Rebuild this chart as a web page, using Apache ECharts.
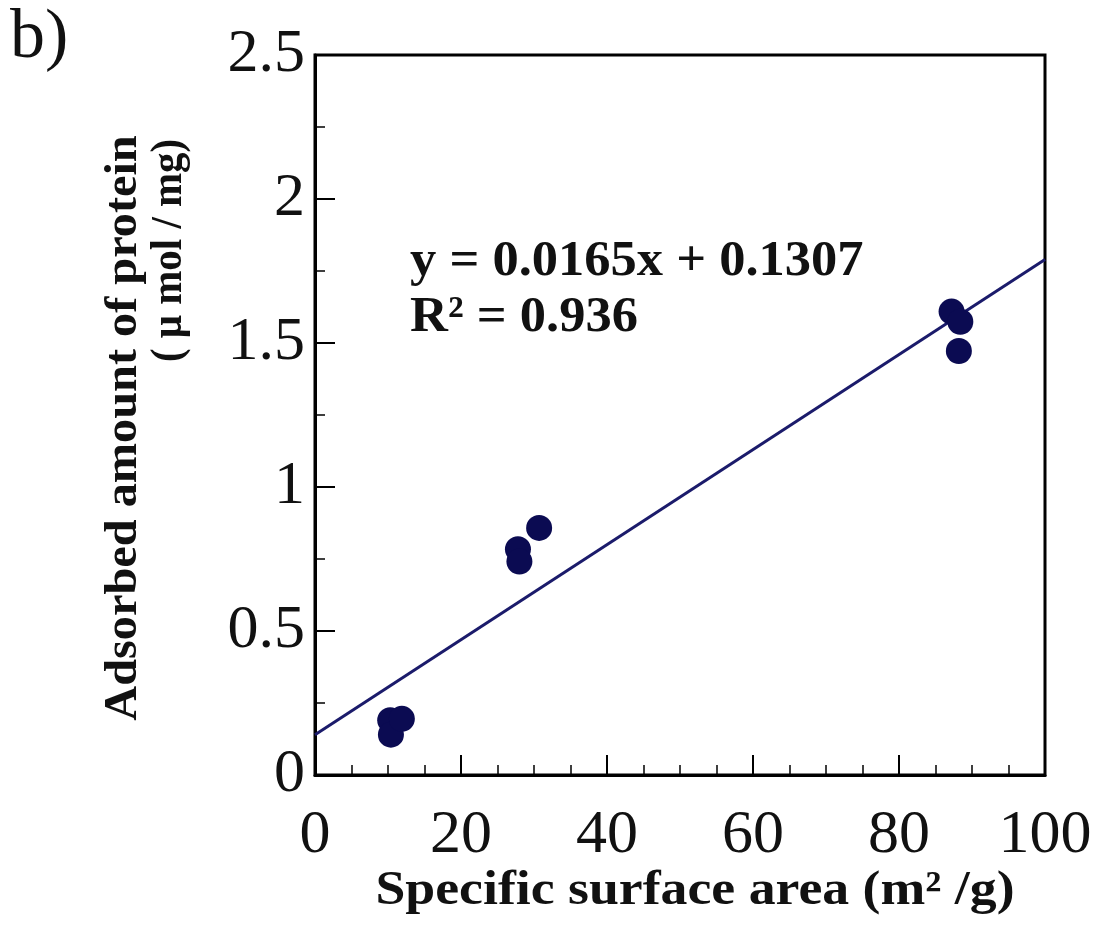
<!DOCTYPE html>
<html>
<head>
<meta charset="utf-8">
<script src="https://cdn.jsdelivr.net/npm/echarts@6/dist/echarts.min.js"></script>
<style>html,body{margin:0;padding:0;background:#fff}#c{width:1097px;height:932px}</style>
</head>
<body>
<div id="c"></div>
<script>
// Data
const surfaceArea = [10.3, 10.4, 11.9, 27.8, 28.0, 30.7, 87.2, 88.4, 88.2];
const adsorbed    = [0.19, 0.14, 0.195, 0.784, 0.741, 0.858, 1.609, 1.574, 1.472];
const fitX = [0, 100];
const fitY = [0.14, 1.79];
const xTicks = [0, 20, 40, 60, 80, 100];
const yTicks = [0, 0.5, 1, 1.5, 2, 2.5];
const equationLines = ['y = 0.0165x + 0.1307', 'R² = 0.936'];
const xTitle = 'Specific surface area (m² /g)';
const yTitle1 = 'Adsorbed amount of protein';
const yTitle2 = '( μ mol / mg)';
const panelLabel = 'b)';

const serif = 'Liberation Serif';
const chart = echarts.init(document.getElementById('c'));
const pts = surfaceArea.map((x, i) => [x, adsorbed[i]]);
const fit = fitX.map((x, i) => [x, fitY[i]]);

function txt(opts, text, size, bold, extra) {
  return Object.assign({ type: 'text' }, opts, {
    style: Object.assign({ text: text, fontFamily: serif, fontSize: size, fontWeight: bold ? 'bold' : 'normal', fill: '#111' }, extra || {})
  });
}

chart.setOption({
  animation: false,
  backgroundColor: '#fff',
  grid: { left: 315, right: 52, top: 55, bottom: 157, show: true, borderColor: '#000', borderWidth: 3, backgroundColor: 'transparent' },
  xAxis: {
    type: 'value', min: xTicks[0], max: xTicks[xTicks.length - 1], interval: 20,
    axisLine: { lineStyle: { color: '#000', width: 3 } },
    axisTick: { inside: true, length: 20, lineStyle: { color: '#000', width: 2 } },
    minorTick: { show: true, splitNumber: 4, length: 10, lineStyle: { color: '#000', width: 1.5 } },
    splitLine: { show: false },
    axisLabel: { fontFamily: serif, fontSize: 62, color: '#111', margin: 30,
      formatter: v => xTicks.includes(v) ? String(v) : '' }
  },
  yAxis: {
    type: 'value', min: yTicks[0], max: yTicks[yTicks.length - 1], interval: 0.5,
    axisLine: { lineStyle: { color: '#000', width: 3 } },
    axisTick: { inside: true, length: 20, lineStyle: { color: '#000', width: 2 } },
    minorTick: { show: true, splitNumber: 2, length: 10, lineStyle: { color: '#000', width: 1.5 } },
    splitLine: { show: false },
    axisLabel: { fontFamily: serif, fontSize: 62, color: '#111', margin: 10,
      formatter: v => String(v) }
  },
  graphic: [
    txt({ left: 10, top: 4 }, panelLabel, 70, false),
    txt({ x: 410, y: 262, scaleX: 1.05 }, equationLines[0], 50, true, { textVerticalAlign: 'middle' }),
    txt({ x: 410, y: 318, scaleX: 1.05 }, equationLines[1], 50, true, { textVerticalAlign: 'middle' }),
    txt({ x: 695, y: 892, scaleX: 1.12 }, xTitle, 48, true, { textAlign: 'center', textVerticalAlign: 'middle' }),
    txt({ x: 124, y: 428, rotation: Math.PI / 2, scaleX: 1.05 }, yTitle1, 46, true, { textAlign: 'center', textVerticalAlign: 'middle' }),
    txt({ x: 170, y: 362, rotation: Math.PI / 2, scaleX: 0.93 }, yTitle2, 44, true, { textAlign: 'left', textVerticalAlign: 'middle' })
  ],
  series: [
    { type: 'line', data: fit, showSymbol: false, lineStyle: { color: '#1b1b6b', width: 3 }, z: 2 },
    { type: 'scatter', data: pts, symbolSize: 26, itemStyle: { color: '#0b0b52', opacity: 1 }, z: 3 }
  ]
});
</script>
</body>
</html>
